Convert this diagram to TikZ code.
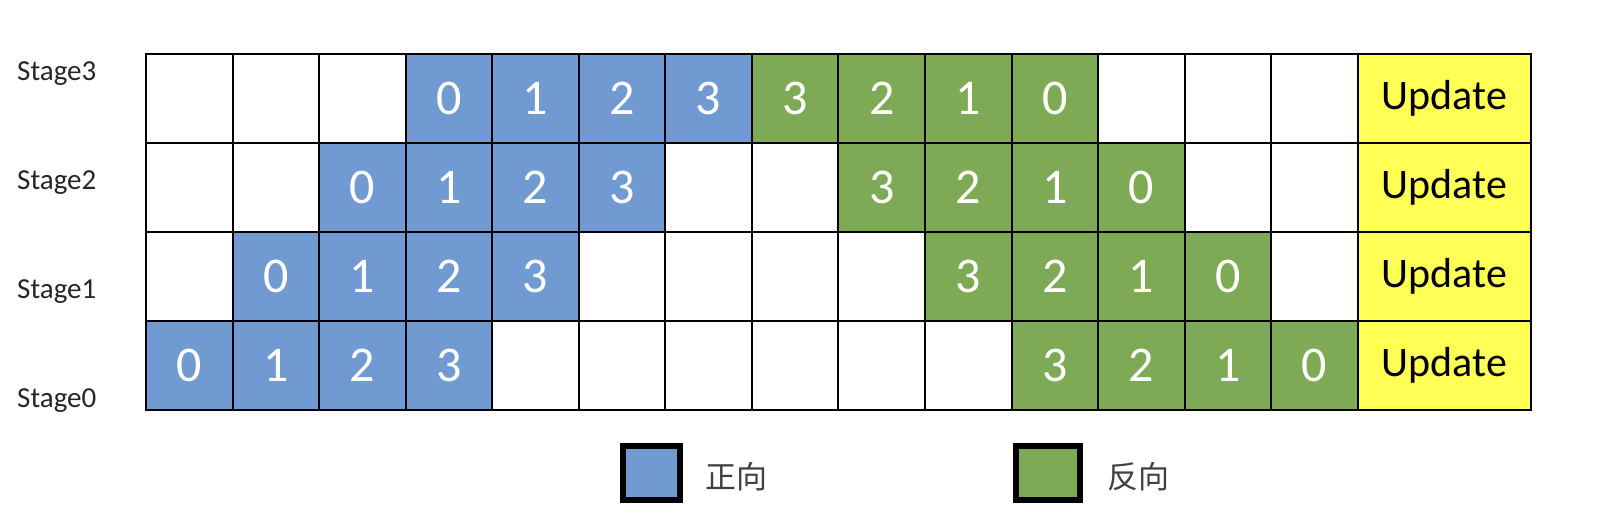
\documentclass[tikz,border=0pt]{standalone}
\usepackage{fontspec}
\setmainfont{Carlito}
\newfontfamily\cjk{Noto Sans CJK SC}
\definecolor{fwdblue}{RGB}{112,154,209}
\definecolor{bwdgreen}{RGB}{127,170,85}
\definecolor{updyellow}{RGB}{255,255,85}

\begin{document}
\begin{tikzpicture}[x=1pt,y=-1pt,
    cell/.style={draw=black, line width=2pt, minimum width=86.56pt, minimum height=89pt,
      inner sep=0pt, font=\fontsize{50}{50}\selectfont},
    fwd/.style={cell, fill=fwdblue, text=white},
    bwd/.style={cell, fill=bwdgreen, text=white},
    upd/.style={cell, fill=updyellow, minimum width=173.12pt, font=\fontsize{42}{42}\selectfont},
    stagelabel/.style={anchor=base west, inner sep=0pt, text=black!85, font=\fontsize{29}{29}\selectfont},
    legendbox/.style={draw=black, line width=6pt, minimum height=54pt, inner sep=0pt},
    legendtext/.style={anchor=west, inner sep=0pt, text=black!75, font=\cjk\fontsize{31}{31}\selectfont}]
  \useasboundingbox (0,0) rectangle (1618,515);
  % pipeline rows, stage 3 on top
  \foreach \s in {0,...,3} {
    \pgfmathsetmacro{\ry}{54+89*(3-\s)+44.5}
    \foreach \c in {0,...,13}
      \node[cell] (c-\s-\c) at ({146+86.56*(\c+0.5)},\ry) {};
    \foreach \i in {0,...,3} {
      \pgfmathtruncatemacro{\fc}{\s+\i}
      \pgfmathtruncatemacro{\bc}{10-\s+\i}
      \pgfmathtruncatemacro{\bn}{3-\i}
      \node[fwd] (f-\s-\i) at (c-\s-\fc) {\i};
      \node[bwd] (b-\s-\i) at (c-\s-\bc) {\bn};
    }
    \node[upd] (u-\s) at ({146+86.56*15},\ry) {Update};
    \node[stagelabel] (lbl-\s) at (17,{80+109*(3-\s)}) {Stage\s};
  }
  % legend
  \node[legendbox, fill=fwdblue, minimum width=57pt] (key-f) at (651.5,473) {};
  \node[legendtext] (key-f-txt) at (705,477) {正向};
  \node[legendbox, fill=bwdgreen, minimum width=64pt] (key-b) at (1048,473) {};
  \node[legendtext] (key-b-txt) at (1107,477) {反向};
\end{tikzpicture}
\end{document}
